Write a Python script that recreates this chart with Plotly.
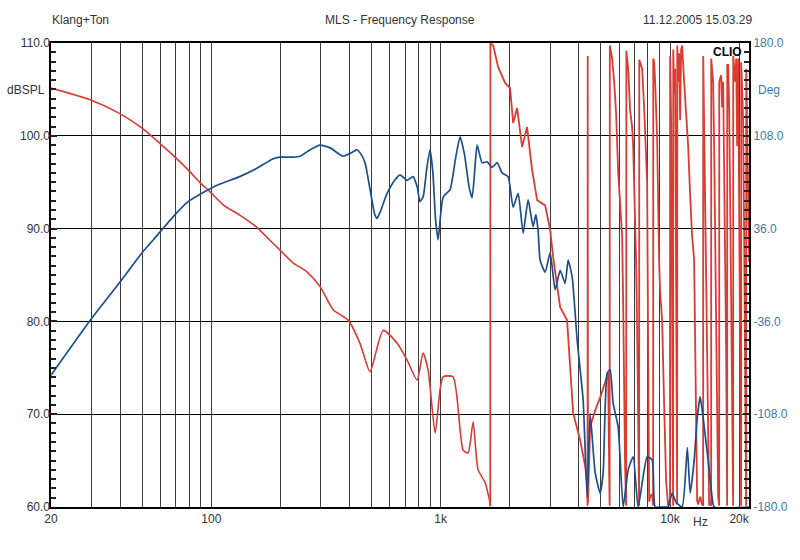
import math
import plotly.graph_objects as go

# ---------------- data ----------------
spl_freq = [20, 29.6, 39.6, 49.9, 55.9, 69.5, 79.2, 89.4, 98.8, 109, 133, 158, 185, 199, 225,
            244, 270, 298, 330, 375, 410, 432, 450, 468, 490, 502, 515, 528, 545, 584, 630,
            665, 714, 758, 790, 813, 840, 870, 899, 925, 950, 975, 1000, 1025, 1099, 1160,
            1215, 1270, 1330, 1371, 1410, 1442, 1516, 1594, 1676, 1762, 1853, 1968, 2070,
            2177, 2289, 2406, 2530, 2600, 2660, 2714, 2854, 3002, 3156, 3318, 3488, 3596,
            3744, 3936, 4181, 4352, 4484, 4716, 4960, 5111, 5319, 5482, 5650, 5942, 6248,
            6570, 6908, 7263, 7948, 8356, 8612, 9054, 9520, 9812, 10214, 10634, 11296,
            11900, 12238, 12741, 13131, 13532, 13805, 14666, 15266, 15576, 22100]
spl_db = [74.2, 80.1, 84.1, 87.4, 88.8, 91.5, 92.9, 93.7, 94.3, 94.8, 95.6, 96.5, 97.5, 97.7, 97.7,
          97.8, 98.5, 99.0, 98.7, 97.8, 98.2, 98.5, 98.0, 97.1, 94.5, 93.0, 91.6, 91.1, 91.8, 93.8, 95.2,
          95.8, 95.2, 95.6, 94.5, 92.9, 93.5, 96.5, 98.5, 96.0, 91.0, 88.8, 91.5, 93.4, 94.2, 97.5,
          99.9, 98.0, 94.5, 93.3, 96.5, 99.0, 97.1, 97.2, 96.6, 97.1, 96.0, 95.6, 92.3,
          93.8, 89.5, 93.1, 90.2, 91.5, 89.8, 86.6, 85.3, 87.4, 83.4, 85.5, 84.1, 86.6,
          84.8, 78.0, 71.5, 61.0, 70.1, 63.7, 61.5, 63.7, 74.4, 74.8, 71.2, 68.6, 60.0,
          64.0, 65.4, 60.0, 65.4, 65.1, 60.0, 60.0, 60.0, 60.0, 61.5, 60.5, 60.0,
          66.4, 61.5, 65.0, 69.5, 71.9, 70.5, 65.0, 61.0, 60.0, 60.0]

phase_freq = [20, 29.6, 39.2, 49.9, 59.8, 69.5, 80.8, 89.4, 98.8, 112.5, 133, 158, 180, 199, 227,
              261, 298, 340, 395, 445, 492, 561, 646, 714, 789, 838, 882, 946, 994, 1025, 1133,
              1253, 1317, 1385, 1456, 1562, 1643, 1646,
              1648, 1693, 1780, 1909, 2008, 2070, 2154, 2265, 2381, 2504, 2634, 2854, 3002, 3093,
              3318, 3558, 3781, 4055, 4181, 4265, 4352, 4370, 4378, 4387, 4484, 4716, 4960, 5216,
              5374, 5427, 5454, 5465, 5594, 5708, 5822, 5942, 6060, 6184, 6246, 6308, 6372, 6440,
              6452, 6502, 6570, 6700, 6836, 6908, 7044, 7116, 7188, 7263, 7334, 7345, 7408, 7558,
              7712, 7870, 7948, 8030, 8110, 8192, 8356, 8442, 8452, 8528, 8612, 8786, 8874, 8964,
              9054, 9238, 9426, 9617, 9812, 9900, 10000, 10012, 10112, 10214, 10318, 10330, 10424,
              10530, 10634, 10742, 10755, 10850, 10960, 11070, 11180, 11296, 11520, 11760, 11998,
              12238, 12484, 12741, 12872, 13004, 13131, 13266, 13532, 13805, 13946, 13960, 14086,
              14230, 14372, 14518, 14666, 14811, 14958, 15110, 15125, 15418, 15576, 15735, 15892,
              16054, 16216, 16380, 16395, 16710, 16878, 17050, 17221, 17395, 17570, 17748, 17765,
              17928, 18110, 18292, 18477, 18664, 18851, 18865, 19233, 19428, 19624, 19822, 20020,
              20222, 20426, 20440, 20838, 21048, 21262, 21480, 21495, 21916, 22140]
phase_deg = [145, 136, 126, 114, 102, 91.5, 80, 71.5, 64.5, 54.5, 46.5, 37, 27, 19.5, 9.5,
             2.5, -9, -27, -35, -53, -75, -43, -53, -66, -81.5, -60.5, -74, -122.6, -89, -79, -79,
             -136, -138, -114, -151, -161, -177, -179.5,
             179.5, 178.4, 161.4, 149, 145, 118, 129.6, 99.3, 114.8, 81.5, 58, 54, 35, 14,
             -25, -35, -107, -128, -141, -148, -162, -179, 170, -177, -118, -105, -95, -82,
             -76, -150, -179, 178, 168, 150, 125, 80, 55, 30, -20, -90, -150, -179,
             174, 168, 160, 128, 115, 100, 50, 10, -40, -110, -179, 167, 165, 160,
             130, 95, 72, -60, -176, -172, -170, -179, 168, 165, 150, 107, 40, 10,
             -13, -35, -100, -160, -179, -175, -179, 170, 120, -60, -179, 175, 140,
             160, -20, -178, 178, 150, 172, 120, 175, 178, 150, 128, 100,
             62, 30, 12, -40, -110, -175, -178, -172, -178, -179, 170, 120,
             60, 0, -60, -130, -179, -175, -179, 168, 150, 100, 40, -20,
             -100, -172, -179, 150, 155, 130, 150, 90, 20, -60, -179, 163,
             163, 130, 60, -40, -120, -179, 170, 150, 168, 100, 168, 40,
             -100, -179, 165, 120, 30, -80, -179, 160, 60, 10]

x_tick_vals = [20, 100, 1000, 10000, 20000]
x_tick_text = ["20", "100", "1k", "10k", "20k"]
x_grid_vals = [30, 40, 50, 60, 70, 80, 90, 200, 300, 400, 500, 600, 700, 800, 900,
               2000, 3000, 4000, 5000, 6000, 7000, 8000, 9000]
db_ticks = [60, 70, 80, 90, 100, 110]
db_text = ["60.0", "70.0", "80.0", "90.0", "100.0", "110.0"]
deg_ticks = [-180, -108, -36, 36, 108, 180]
deg_text = ["-180.0", "-108.0", "-36.0", "36.0", "108.0", "180.0"]

BLUE = "#1d4f8c"
RED = "#dc3b31"
AXBLUE = "#3f78a8"
GREY = "#333333"
FONT = "Liberation Sans, Arial, sans-serif"

split = phase_freq.index(1646)

fig = go.Figure()
fig.add_trace(go.Scatter(x=phase_freq[:split + 1], y=phase_deg[:split + 1], yaxis="y",
                         mode="lines", line=dict(color=RED, width=1.6, shape="spline", smoothing=0.6),
                         hoverinfo="skip"))
fig.add_trace(go.Scatter(x=phase_freq[split:], y=phase_deg[split:], yaxis="y",
                         mode="lines", line=dict(color=RED, width=1.8), hoverinfo="skip"))
fig.add_trace(go.Scatter(x=spl_freq, y=spl_db, yaxis="y2", mode="lines",
                         line=dict(color=BLUE, width=1.7, shape="spline", smoothing=0.5),
                         hoverinfo="skip"))

fig.update_layout(
    width=800, height=560,
    margin=dict(l=51, r=51, t=43, b=53),
    paper_bgcolor="white", plot_bgcolor="white",
    showlegend=False,
    font=dict(family=FONT, size=12, color=GREY),
    xaxis=dict(type="log", range=[math.log10(20), math.log10(22100)],
               tickmode="array", tickvals=x_tick_vals, ticktext=x_tick_text,
               showgrid=True, gridcolor="#3c3c3c", gridwidth=1, zeroline=False,
               ticks="", showline=True, mirror=True, linecolor="black", linewidth=2,
               tickfont=dict(size=12, color=GREY, family=FONT),
               minor=dict(tickmode="array", tickvals=x_grid_vals, showgrid=True,
                          gridcolor="#3c3c3c", gridwidth=1, ticks="")),
    yaxis=dict(side="right", range=[-180, 180], tickmode="array", tickvals=deg_ticks,
               ticktext=deg_text, showgrid=True, gridcolor="black", gridwidth=1,
               zeroline=False, ticks="inside", ticklen=6, tickwidth=1.5, tickcolor="#222222",
               showline=True, mirror=True, linecolor="black",
               linewidth=2, tickfont=dict(size=12, color=AXBLUE, family=FONT),
               minor=dict(tick0=-180, dtick=7.2, ticks="inside", ticklen=5, tickwidth=1.5,
                          tickcolor="#222222")),
    yaxis2=dict(side="left", overlaying="y", range=[60, 110], tickmode="linear",
                tick0=db_ticks[0], dtick=db_ticks[1] - db_ticks[0], tickformat=".1f",
                showgrid=False, zeroline=False,
                ticks="inside", ticklen=6, tickwidth=1.5, tickcolor="#222222",
                tickfont=dict(size=12, color=GREY, family=FONT),
                minor=dict(tick0=60, dtick=1, ticks="inside", ticklen=5, tickwidth=1.5,
                           tickcolor="#222222")),
)

ann = [
    dict(text="Klang+Ton", x=-0.0015, y=1.0496, xanchor="left", font=dict(color=GREY)),
    dict(text="MLS - Frequency Response", x=0.5, y=1.0496, xanchor="center", font=dict(color=GREY)),
    dict(text="11.12.2005 15.03.29", x=1.0086, y=1.0496, xanchor="right", font=dict(color=GREY)),
    dict(text="dBSPL", x=-0.0659, y=0.8987, xanchor="left", font=dict(color=GREY)),
    dict(text="Deg", x=1.0100, y=0.8987, xanchor="left", font=dict(color=AXBLUE)),
    dict(text="Hz", x=0.9298, y=-0.0323, xanchor="center", font=dict(color=GREY)),
    dict(text="<b>CLIO</b>", x=0.9685, y=0.9806, xanchor="center", font=dict(color="black")),
]
for a in ann:
    a.update(xref="paper", yref="paper", yanchor="middle", showarrow=False)
    a["font"].update(family=FONT, size=12)
fig.update_layout(annotations=ann)

fig.write_html("out.html")
